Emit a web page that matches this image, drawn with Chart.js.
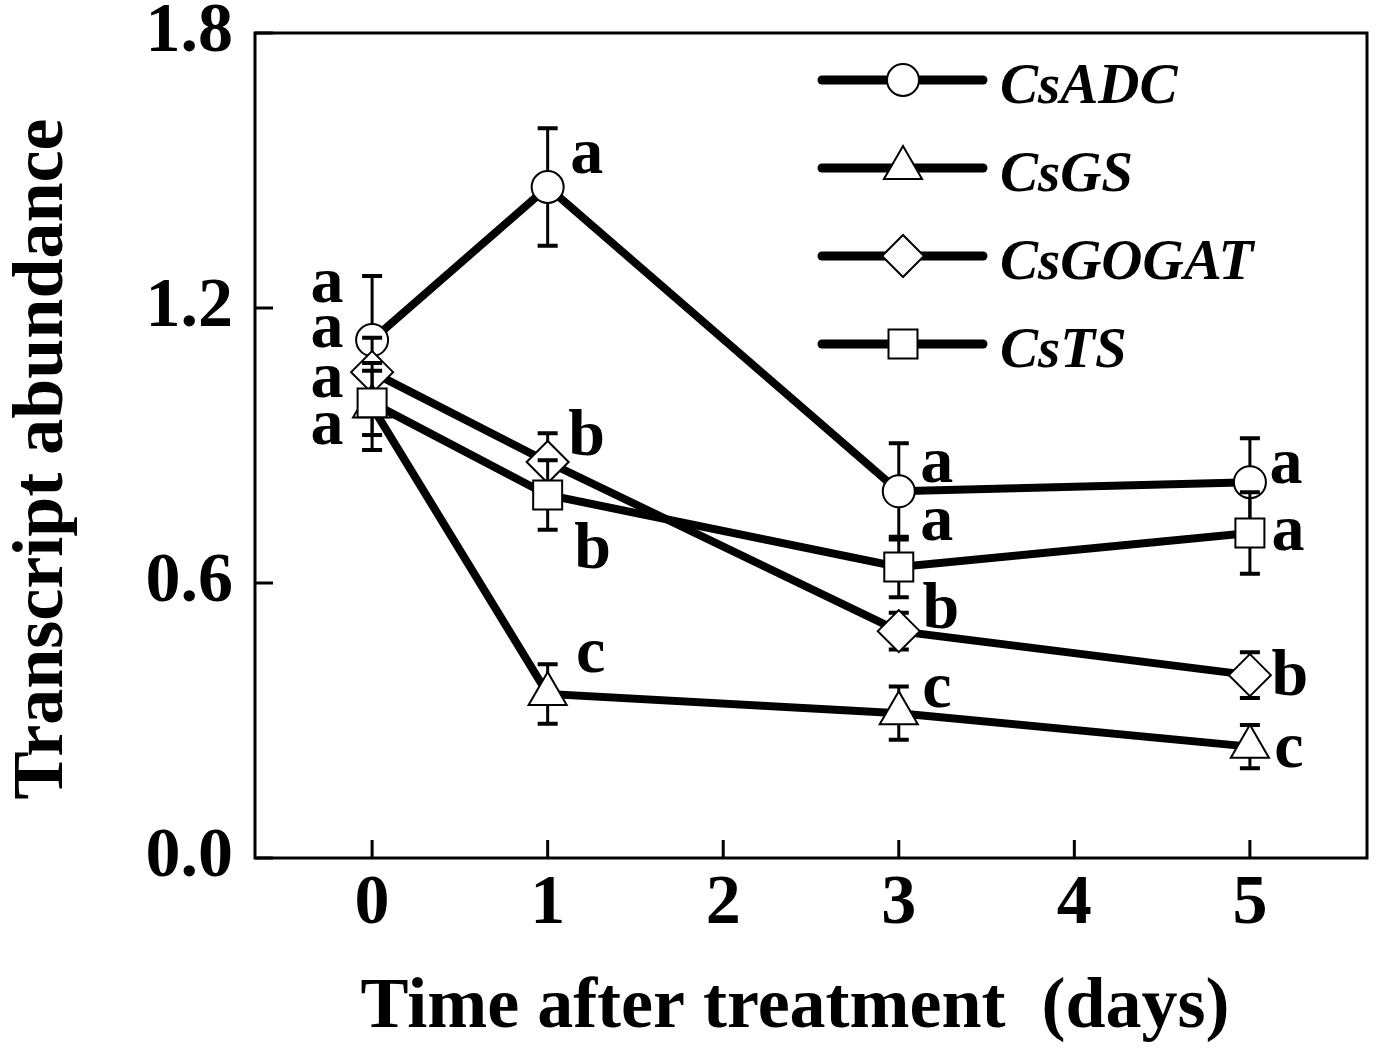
<!DOCTYPE html>
<html>
<head>
<meta charset="utf-8">
<script src="https://cdn.jsdelivr.net/npm/chart.js@4.4.1/dist/chart.umd.min.js"></script>
<style>
  html, body { margin: 0; padding: 0; background: #fff; }
  canvas { display: block; }
</style>
</head>
<body>
<canvas id="chart" width="1381" height="1053"></canvas>
<script>
const days = [0, 1, 3, 5];
const xTicks = [0, 1, 2, 3, 4, 5];
const yTicks = [0, 0.6, 1.2, 1.8];

const geneNames = ['CsADC', 'CsGS', 'CsGOGAT', 'CsTS'];

const adc = [1.13, 1.464, 0.80, 0.82];
const adcErr = [0.14, 0.128, 0.105, 0.096];
const gs = [0.985, 0.358, 0.316, 0.243];
const gsErr = [0.095, 0.065, 0.058, 0.047];
const gogat = [1.06, 0.864, 0.495, 0.399];
const gogatErr = [0.075, 0.063, 0.04, 0.05];
const ts = [0.993, 0.792, 0.635, 0.709];
const tsErr = [0.07, 0.076, 0.066, 0.089];

// significance letters
const adcLetters = ['a', 'a', 'a', 'a'];
const gsLetters = ['a', 'c', 'c', 'c'];
const gogatLetters = ['a', 'b', 'b', 'b'];
const tsLetters = ['a', 'b', 'a', 'a'];

// where each letter sits relative to its point (px: dx to centre, dy to baseline)
const adcLetterPos = [[-45, -38], [39, -14], [38, -9], [36, 1]];
const gsLetterPos = [[-45, 37], [43, -22], [38, -6], [39, 20]];
const gogatLetterPos = [[-45, -25], [39, -7], [42, -3], [40, 20]];
const tsLetterPos = [[-45, -6], [45, 73], [38, -27], [38, 17]];

const serif = '"Liberation Serif", "Times New Roman", serif';

function toPoints(values) {
  return values.map((v, i) => ({ x: days[i], y: v }));
}

function makeSet(label, values, errs, letters, letterPos, style, radius, order) {
  return {
    label: label,
    data: toPoints(values),
    errors: errs,
    letters: letters,
    letterPos: letterPos,
    order: order,
    borderColor: '#000',
    borderWidth: 8,
    tension: 0,
    pointStyle: style,
    pointRadius: radius,
    pointHoverRadius: radius,
    pointBackgroundColor: '#fff',
    pointBorderColor: '#000',
    pointBorderWidth: 2
  };
}

// error bars drawn under each series' markers
const errorBars = {
  id: 'errorBars',
  beforeDatasetDraw(chart, args) {
    const ds = chart.data.datasets[args.index];
    const y = chart.scales.y;
    const ctx = chart.ctx;
    ctx.save();
    ctx.strokeStyle = '#000';
    args.meta.data.forEach((pt, i) => {
      const v = ds.data[i].y;
      const top = y.getPixelForValue(v + ds.errors[i]);
      const bot = y.getPixelForValue(v - ds.errors[i]);
      ctx.lineWidth = 3;
      ctx.beginPath();
      ctx.moveTo(pt.x, top);
      ctx.lineTo(pt.x, bot);
      ctx.stroke();
      ctx.lineWidth = 4;
      ctx.beginPath();
      ctx.moveTo(pt.x - 10, top);
      ctx.lineTo(pt.x + 10, top);
      ctx.moveTo(pt.x - 10, bot);
      ctx.lineTo(pt.x + 10, bot);
      ctx.stroke();
    });
    ctx.restore();
  }
};

const letterLabels = {
  id: 'letterLabels',
  afterDatasetsDraw(chart) {
    const ctx = chart.ctx;
    ctx.save();
    ctx.fillStyle = '#000';
    ctx.font = 'bold 66px ' + serif;
    ctx.textAlign = 'center';
    ctx.textBaseline = 'alphabetic';
    chart.data.datasets.forEach((ds, d) => {
      chart.getDatasetMeta(d).data.forEach((pt, i) => {
        const off = ds.letterPos[i];
        ctx.fillText(ds.letters[i], pt.x + off[0], pt.y + off[1]);
      });
    });
    ctx.restore();
  }
};

// box frame with inward ticks
const frame = {
  id: 'frame',
  afterDraw(chart) {
    const { ctx, chartArea: a, scales } = chart;
    ctx.save();
    ctx.strokeStyle = '#000';
    ctx.lineWidth = 3;
    ctx.strokeRect(a.left, a.top, a.right - a.left, a.bottom - a.top);
    ctx.beginPath();
    xTicks.forEach(v => {
      const px = scales.x.getPixelForValue(v);
      ctx.moveTo(px, a.bottom);
      ctx.lineTo(px, a.bottom - 18);
    });
    yTicks.forEach(v => {
      const py = scales.y.getPixelForValue(v);
      ctx.moveTo(a.left, py);
      ctx.lineTo(a.left + 18, py);
    });
    ctx.stroke();
    ctx.restore();
  }
};

const axisTitles = {
  id: 'axisTitles',
  afterDraw(chart) {
    const ctx = chart.ctx;
    ctx.save();
    ctx.fillStyle = '#000';
    ctx.font = 'bold 72px ' + serif;
    ctx.textAlign = 'center';
    ctx.textBaseline = 'alphabetic';
    ctx.fillText('Time after treatment  (days)', 795, 1027);
    ctx.translate(62, 459);
    ctx.rotate(-Math.PI / 2);
    ctx.fillText('Transcript abundance', 0, 0);
    ctx.restore();
  }
};

function drawMarker(ctx, style, x, y, r) {
  ctx.beginPath();
  if (style === 'circle') {
    ctx.arc(x, y, r, 0, Math.PI * 2);
  } else if (style === 'triangle') {
    ctx.moveTo(x, y - r);
    ctx.lineTo(x + r * Math.sin(Math.PI * 2 / 3), y + r / 2);
    ctx.lineTo(x - r * Math.sin(Math.PI * 2 / 3), y + r / 2);
    ctx.closePath();
  } else if (style === 'rectRot') {
    ctx.moveTo(x - r, y);
    ctx.lineTo(x, y - r);
    ctx.lineTo(x + r, y);
    ctx.lineTo(x, y + r);
    ctx.closePath();
  } else {
    const h = r * Math.SQRT1_2;
    ctx.rect(x - h, y - h, 2 * h, 2 * h);
  }
  ctx.fillStyle = '#fff';
  ctx.fill();
  ctx.lineWidth = 2;
  ctx.strokeStyle = '#000';
  ctx.stroke();
}

const boxLegend = {
  id: 'boxLegend',
  afterDraw(chart) {
    const ctx = chart.ctx;
    ctx.save();
    chart.data.datasets.forEach((ds, i) => {
      const y = 80 + i * 88;
      ctx.strokeStyle = '#000';
      ctx.lineWidth = 9;
      ctx.lineCap = 'round';
      ctx.beginPath();
      ctx.moveTo(822, y);
      ctx.lineTo(983, y);
      ctx.stroke();
      ctx.lineCap = 'butt';
      drawMarker(ctx, ds.pointStyle, 903, y, ds.pointRadius);
      ctx.fillStyle = '#000';
      ctx.font = 'italic bold 57px ' + serif;
      ctx.textAlign = 'left';
      ctx.textBaseline = 'alphabetic';
      ctx.fillText(ds.label, 1000, y + 23);
    });
    ctx.restore();
  }
};

const tickFont = { family: serif, size: 70, weight: 'bold' };

new Chart(document.getElementById('chart'), {
  type: 'line',
  data: {
    datasets: [
      makeSet(geneNames[0], adc, adcErr, adcLetters, adcLetterPos, 'circle', 16, 3),
      makeSet(geneNames[1], gs, gsErr, gsLetters, gsLetterPos, 'triangle', 22, 1),
      makeSet(geneNames[2], gogat, gogatErr, gogatLetters, gogatLetterPos, 'rectRot', 21, 2),
      makeSet(geneNames[3], ts, tsErr, tsLetters, tsLetterPos, 'rect', 20.5, 0)
    ]
  },
  options: {
    responsive: false,
    animation: false,
    layout: { autoPadding: false, padding: { top: 33, right: 14, left: 0, bottom: 0 } },
    plugins: {
      legend: { display: false },
      tooltip: { enabled: false }
    },
    scales: {
      x: {
        type: 'linear',
        min: -0.667,
        max: 5.667,
        grid: { display: false, drawTicks: false },
        border: { display: false },
        afterBuildTicks: s => { s.ticks = xTicks.map(v => ({ value: v })); },
        afterFit: s => { s.height = 195; s.paddingLeft = 0; s.paddingRight = 0; },
        ticks: {
          color: '#000',
          font: tickFont,
          padding: 5,
          maxRotation: 0,
          callback: v => String(v)
        }
      },
      y: {
        min: 0,
        max: 1.8,
        grid: { display: false, drawTicks: false },
        border: { display: false },
        afterBuildTicks: s => { s.ticks = yTicks.map(v => ({ value: v })); },
        afterFit: s => { s.width = 255; s.paddingTop = 0; s.paddingBottom = 0; },
        ticks: {
          color: '#000',
          font: tickFont,
          padding: 22,
          callback: v => v.toFixed(1)
        }
      }
    }
  },
  plugins: [errorBars, letterLabels, frame, axisTitles, boxLegend]
});
</script>
</body>
</html>
